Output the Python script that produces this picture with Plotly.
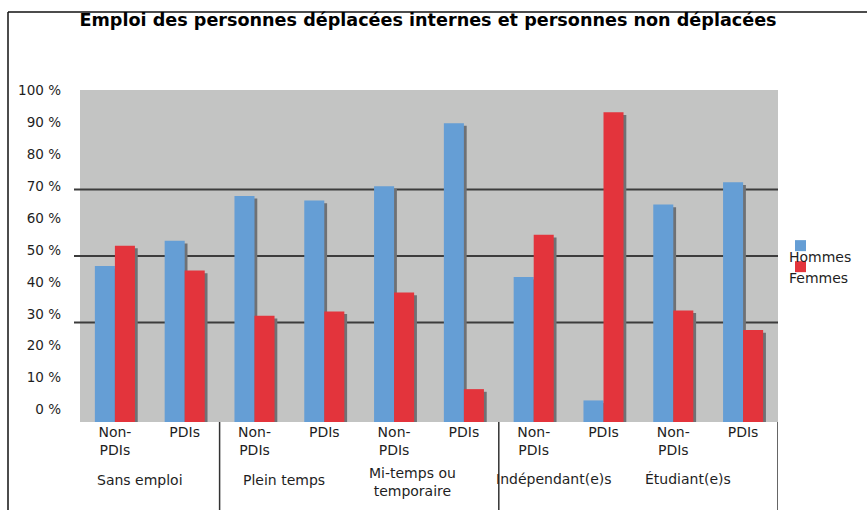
import plotly.graph_objects as go

# ---- data ----
groups = ["Sans emploi", "Plein temps", "Mi-temps ou<br>temporaire", "Indépendant(e)s", "Étudiant(e)s"]
sub_labels = ["Non-<br>PDIs", "PDIs"]
series_names = ["Hommes", "Femmes"]
hommes = [47.0, 54.6, 68.1, 66.7, 71.0, 90.0, 43.7, 6.5, 65.5, 72.2]
femmes = [53.1, 45.6, 32.0, 33.3, 39.0, 9.9, 56.4, 93.3, 33.6, 27.7]
y_tick_labels = ["0 %", "10 %", "20 %", "30 %", "40 %", "50 %", "60 %", "70 %", "80 %", "90 %", "100 %"]
grid_values = [30, 50, 70]

# ---- style ----
BLUE = "#659ed5"
RED = "#e3343c"
SHADOW = "#6f7174"
BG = "#c3c4c3"
TXT = "#1e1e1e"
FONT = "DejaVu Sans"

n = len(hommes)
xs = list(range(n))
ticktext = [sub_labels[i % 2] for i in xs]

W = 0.287
SH_DX = 0.04
SH_DY = 0.8

fig = go.Figure()
# shadows
for vals, off in ((hommes, -W), (femmes, 0.0)):
    fig.add_trace(go.Bar(x=xs, y=vals, base=-SH_DY, width=W, offset=off + SH_DX,
                         marker=dict(color=SHADOW, line=dict(width=0)),
                         showlegend=False, hoverinfo="skip"))
# bars
for vals, off, col, name in ((hommes, -W, BLUE, series_names[0]), (femmes, 0.0, RED, series_names[1])):
    fig.add_trace(go.Bar(x=xs, y=vals, width=W, offset=off, name=name,
                         marker=dict(color=col, line=dict(width=0)),
                         showlegend=False))

# y tick labels are placed slightly off the bar scale as in the original
lo, hi = 3.8, 99.8
tickvals = [lo + k * (hi - lo) / (len(y_tick_labels) - 1) for k in range(len(y_tick_labels))]

shapes = []
for g in grid_values:
    shapes.append(dict(type="line", xref="paper", yref="y", x0=-6 / 698, x1=1, y0=g, y1=g,
                       line=dict(color="#3c3c3c", width=2), layer="below"))
# category separators
for sx in (1.5, 5.5, 9.5):
    shapes.append(dict(type="line", xref="x", yref="paper", x0=sx, x1=sx, y0=0, y1=-0.27,
                       line=dict(color="#333333", width=1.5)))
# outer frame (top and left)
shapes.append(dict(type="line", xref="paper", yref="paper", x0=-72 / 698, x1=1.2,
                   y0=1 + 78 / 331.7, y1=1 + 78 / 331.7, line=dict(color="#111111", width=1.5)))
shapes.append(dict(type="line", xref="paper", yref="paper", x0=-72 / 698, x1=-72 / 698,
                   y0=1 + 78 / 331.7, y1=-0.3, line=dict(color="#111111", width=1.5)))
# legend swatches
leg_cols = [BLUE, RED]
leg_tops = [240, 261]
annotations = []
for col, top, name, ty in zip(leg_cols, leg_tops, series_names, [257, 278]):
    shapes.append(dict(type="rect", xref="paper", yref="paper",
                       x0=(795 - 80) / 698, x1=(806 - 80) / 698,
                       y0=(421.7 - top) / 331.7, y1=(421.7 - top - 11) / 331.7,
                       fillcolor=col, line=dict(width=0)))
    annotations.append(dict(text=name, xref="paper", yref="paper", x=(787 - 80) / 698,
                            y=(421.7 - ty) / 331.7, xanchor="left", yanchor="middle",
                            showarrow=False, font=dict(family=FONT, size=14, color=TXT)))

# group labels
g_shift = [-10, -5, -17, -15, -20]
g_y = [-58, -58, -60, -56.5, -56.5]
for i, (g, dx, dy) in enumerate(zip(groups, g_shift, g_y)):
    annotations.append(dict(text=g, xref="x", yref="paper", x=2 * i + 0.5, y=0,
                            xshift=dx, yshift=dy, xanchor="center", yanchor="middle",
                            showarrow=False, font=dict(family=FONT, size=14, color=TXT)))

fig.update_layout(
    width=867, height=510,
    margin=dict(l=80, r=89, t=90, b=88, pad=0),
    paper_bgcolor="white", plot_bgcolor=BG,
    barmode="overlay",
    title=dict(text="<b>Emploi des personnes déplacées internes et personnes non déplacées</b>",
               x=428 / 867, xanchor="center", y=1 - 20 / 510, yanchor="middle",
               font=dict(family=FONT, size=17.6, color="#000000")),
    xaxis=dict(range=[-0.5, n - 0.5], tickvals=xs, ticktext=ticktext, showgrid=False,
               zeroline=False, showline=False, ticks="", tickfont=dict(family=FONT, size=14, color=TXT)),
    yaxis=dict(range=[0, 100], tickvals=tickvals, ticktext=y_tick_labels, showgrid=False,
               zeroline=False, showline=False, ticks="", ticklabelstandoff=18,
               tickfont=dict(family=FONT, size=13.5, color=TXT)),
    shapes=shapes, annotations=annotations,
    showlegend=False,
)

fig.write_html("out.html", config={"displayModeBar": False},
               post_script="document.body.style.margin='0';document.body.style.overflow='hidden';")
